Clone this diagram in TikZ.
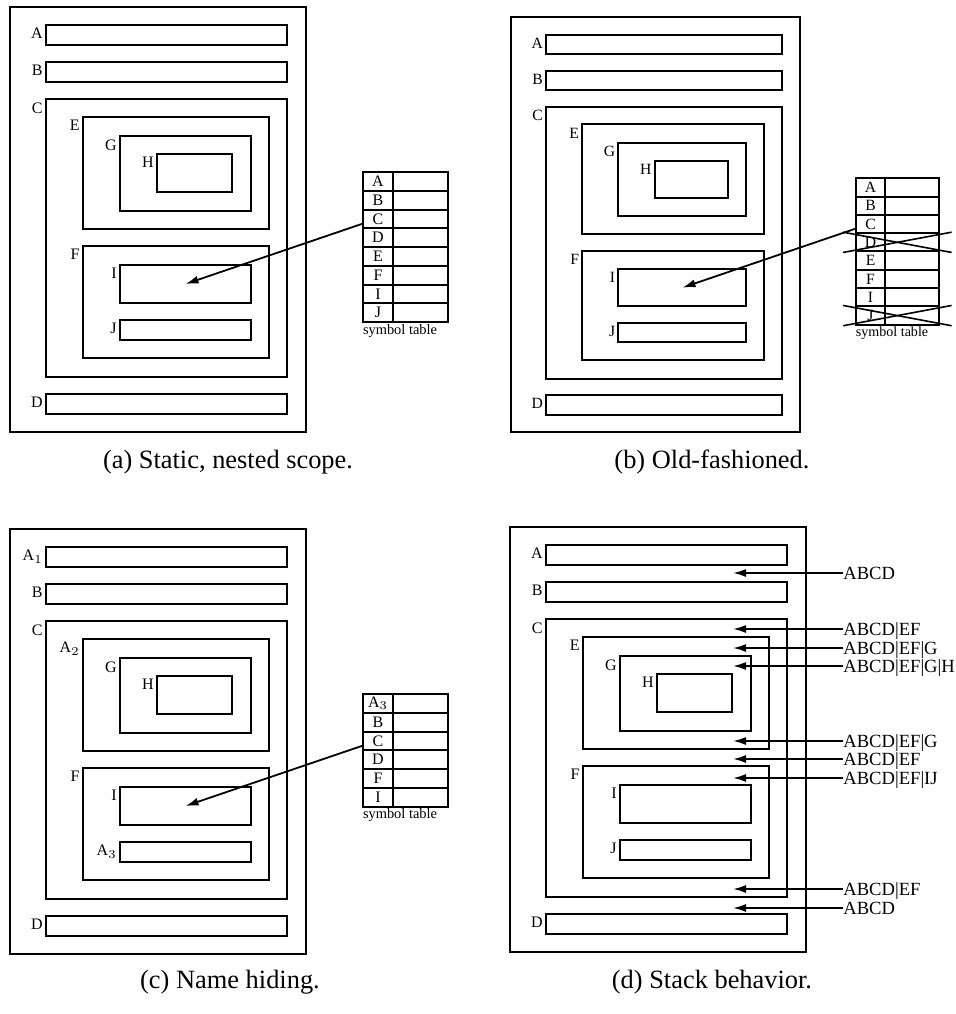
\documentclass[tikz,border=0pt]{standalone}
\usepackage{fontspec}
\setmainfont{Liberation Serif}
\usetikzlibrary{arrows.meta}

% nested blocks of one panel: #1 prefix, #2 label of A, #3 label of E, #4 label of J
\newcommand{\scopeblocks}[4]{%
  \draw[box] (0,0) rectangle (296,425);
  \draw[box] (36,18) rectangle (277,38);    \node[lbl] (#1A) at (36,18) {#2};
  \draw[box] (36,55) rectangle (277,75);    \node[lbl] (#1B) at (36,55) {B};
  \draw[box] (36,92) rectangle (277,370);   \node[lbl] (#1C) at (36,92) {C};
  \draw[box] (73,110) rectangle (259,222);  \node[lbl] (#1E) at (73,110) {#3};
  \draw[box] (110,129) rectangle (241,204); \node[lbl] (#1G) at (110,129) {G};
  \draw[box] (147,147) rectangle (222,185); \node[lbl] (#1H) at (147,147) {H};
  \draw[box] (73,239) rectangle (259,351);  \node[lbl] (#1F) at (73,239) {F};
  \draw[box] (110,258) rectangle (241,296); \node[lbl] (#1I) at (110,258) {I};
  \draw[box] (110,313) rectangle (241,333); \node[lbl] (#1J) at (110,313) {#4};
  \draw[box] (36,387) rectangle (277,407);  \node[lbl] (#1D) at (36,387) {D};
  \coordinate (#1mid) at (175.5,277);
}

% symbol table: #1 prefix, #2 rows, #3 number of rows
\newcommand{\symtable}[3]{%
  \foreach \row [count=\idx] in {#2} {
    \node[key] (#1t\idx) at (368,{165+18.75*(\idx-0.5)}) {\row};
    \node[val] (#1v\idx) at (410.5,{165+18.75*(\idx-0.5)}) {};
  }
  \node[tcap] (#1cap) at (390,{167+18.75*#3}) {symbol table};
}

\begin{document}
\begin{tikzpicture}[x=0.5pt, y=-0.5pt,
    box/.style={line width=1pt},
    lbl/.style={anchor=north east, inner sep=0pt, xshift=-1.5pt, yshift=-1.5pt, font=\fontsize{8}{9}\selectfont},
    key/.style={draw, line width=1pt, minimum width=15pt, minimum height=9.375pt, inner sep=0pt, font=\fontsize{8}{9}\selectfont},
    val/.style={draw, line width=1pt, minimum width=27.5pt, minimum height=9.375pt, inner sep=0pt},
    tcap/.style={anchor=north, inner sep=0pt, font=\fontsize{7.2}{8}\selectfont},
    ptr/.style={line width=0.9pt, -{Latex[length=6.5pt,width=4pt]}},
    stk/.style={anchor=west, inner sep=0pt, text height=6.1pt, text depth=0pt, font=\fontsize{9.3}{11}\selectfont},
    subcap/.style={font=\fontsize{13.2}{15}\selectfont}]
    \useasboundingbox (0,0) rectangle (956,1014);

    % (a) static, nested scope
    \begin{scope}[shift={(10,7)}]
        \scopeblocks{a}{A}{E}{J}
        \symtable{a}{A,B,C,D,E,F,I,J}{8}
        \draw[ptr] ([yshift=-2.5pt]at3.west) -- (amid);
    \end{scope}

    % (b) old-fashioned
    \begin{scope}[shift={(511,17)}, scale=0.977, transform shape]
        \scopeblocks{b}{A}{E}{J}
        \symtable{b}{A,B,C,D,E,F,I,J}{8}
        \draw[ptr] ([yshift=-2.5pt]bt3.west) -- (bmid);
        % D and J struck out
        \draw[line width=0.8pt] ([xshift=-6pt]bt4.north west) -- ([xshift=6pt]bv4.south east);
        \draw[line width=0.8pt] ([xshift=-6pt]bt4.south west) -- ([xshift=6pt]bv4.north east);
        \draw[line width=0.8pt] ([xshift=-6pt]bt8.north west) -- ([xshift=6pt]bv8.south east);
        \draw[line width=0.8pt] ([xshift=-6pt]bt8.south west) -- ([xshift=6pt]bv8.north east);
    \end{scope}

    % (c) name hiding
    \begin{scope}[shift={(10,529)}]
        \scopeblocks{c}{A$_1$}{A$_2$}{A$_3$}
        \symtable{c}{A$_3$,B,C,D,F,I}{6}
        \draw[ptr] ([yshift=-2.5pt]ct3.west) -- (cmid);
    \end{scope}

    % (d) stack behavior
    \begin{scope}[shift={(510,527)}]
        \scopeblocks{d}{A}{E}{J}
        \foreach \yy/\txt [count=\idx] in {46/ABCD, 102/ABCD|EF, 121/ABCD|EF|G, 139/ABCD|EF|G|H,
            214/ABCD|EF|G, 232/ABCD|EF, 251/ABCD|EF|IJ, 362/ABCD|EF, 381/ABCD} {
            \node[stk] (s\idx) at (333,\yy) {\txt};
            \coordinate (p\idx) at (223,\yy);
            \draw[ptr] (s\idx.west) -- (p\idx);
        }
    \end{scope}

    % captions
    \node[subcap] (capa) at (228,462) {(a) Static, nested scope.};
    \node[subcap] (capb) at (712,462) {(b) Old-fashioned.};
    \node[subcap] (capc) at (230,982) {(c) Name hiding.};
    \node[subcap] (capd) at (712,982) {(d) Stack behavior.};
\end{tikzpicture}
\end{document}
